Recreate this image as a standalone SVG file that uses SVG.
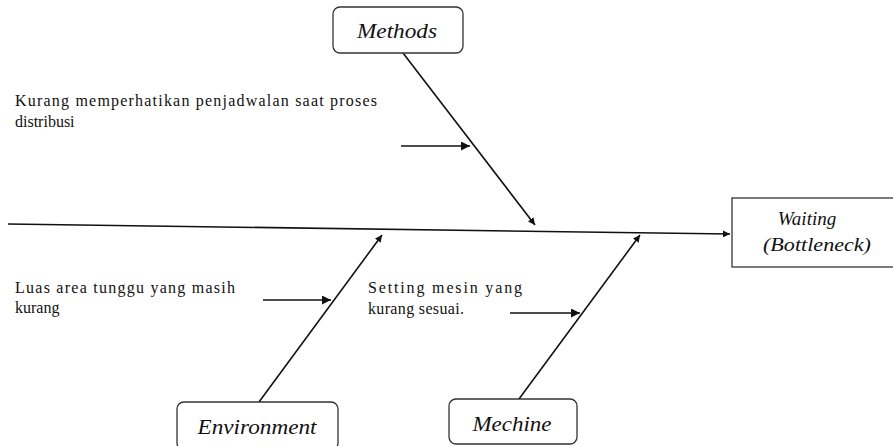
<svg xmlns="http://www.w3.org/2000/svg" width="893" height="446" viewBox="0 0 893 446">
<style>
.box{fill:#fff;stroke:#333;stroke-width:1.3}
.lbl{font-family:"Liberation Serif","DejaVu Serif",serif;font-style:italic;fill:#111}
.txt{font-family:"Liberation Serif","DejaVu Serif",serif;font-size:16px;fill:#111}
.ln{stroke:#111;stroke-width:1.6;fill:none}
</style>
<defs>
<marker id="ah" viewBox="0 0 10 10" refX="10" refY="5" markerWidth="7" markerHeight="7" markerUnits="userSpaceOnUse" orient="auto">
<path d="M0,0 L10,5 L0,10 z" fill="#111"/>
</marker>
<marker id="ahb" viewBox="0 0 10 10" refX="10" refY="5" markerWidth="10" markerHeight="9" markerUnits="userSpaceOnUse" orient="auto">
<path d="M0,0 L10,5 L0,10 z" fill="#111"/>
</marker>
</defs>
<rect width="893" height="446" fill="#fff"/>
<g id="connectors">
<line class="ln" x1="8" y1="224" x2="730" y2="234" marker-end="url(#ah)"/>
<line class="ln" x1="403" y1="53" x2="535" y2="225" marker-end="url(#ah)"/>
<line class="ln" x1="259" y1="402" x2="382" y2="235" marker-end="url(#ah)"/>
<line class="ln" x1="519" y1="399" x2="640" y2="235" marker-end="url(#ah)"/>
<line class="ln" x1="401" y1="146" x2="470" y2="146" marker-end="url(#ahb)"/>
<line class="ln" x1="263" y1="300" x2="331" y2="300" marker-end="url(#ahb)"/>
<line class="ln" x1="510" y1="313" x2="580" y2="313" marker-end="url(#ahb)"/>
</g>
<g id="methods">
<rect class="box" x="333" y="7" width="130" height="46" rx="7"/>
<text class="lbl" x="397" y="38" font-size="20" text-anchor="middle" textLength="80" lengthAdjust="spacingAndGlyphs">Methods</text>
</g>
<g id="environment">
<rect class="box" x="177" y="402" width="161" height="48" rx="7"/>
<text class="lbl" x="257" y="434" font-size="20" text-anchor="middle" textLength="119" lengthAdjust="spacingAndGlyphs">Environment</text>
</g>
<g id="machine">
<rect class="box" x="449" y="399" width="128" height="45" rx="7"/>
<text class="lbl" x="512" y="431" font-size="20" text-anchor="middle" textLength="79" lengthAdjust="spacingAndGlyphs">Mechine</text>
</g>
<g id="waiting">
<rect class="box" x="732" y="198" width="163" height="69"/>
<text class="lbl" x="807" y="225" font-size="19" text-anchor="middle">Waiting</text>
<text class="lbl" x="817" y="251" font-size="19" text-anchor="middle" textLength="108" lengthAdjust="spacingAndGlyphs">(Bottleneck)</text>
</g>
<g id="cause-methods">
<text class="txt" x="15" y="106" textLength="362" lengthAdjust="spacing">Kurang memperhatikan penjadwalan saat proses</text>
<text class="txt" x="15" y="127">distribusi</text>
</g>
<g id="cause-environment">
<text class="txt" x="15" y="293" textLength="220" lengthAdjust="spacing">Luas area tunggu yang masih</text>
<text class="txt" x="15" y="313">kurang</text>
</g>
<g id="cause-machine">
<text class="txt" x="368" y="293" textLength="154" lengthAdjust="spacing">Setting mesin yang</text>
<text class="txt" x="368" y="314" textLength="96" lengthAdjust="spacing">kurang sesuai.</text>
</g>
</svg>
